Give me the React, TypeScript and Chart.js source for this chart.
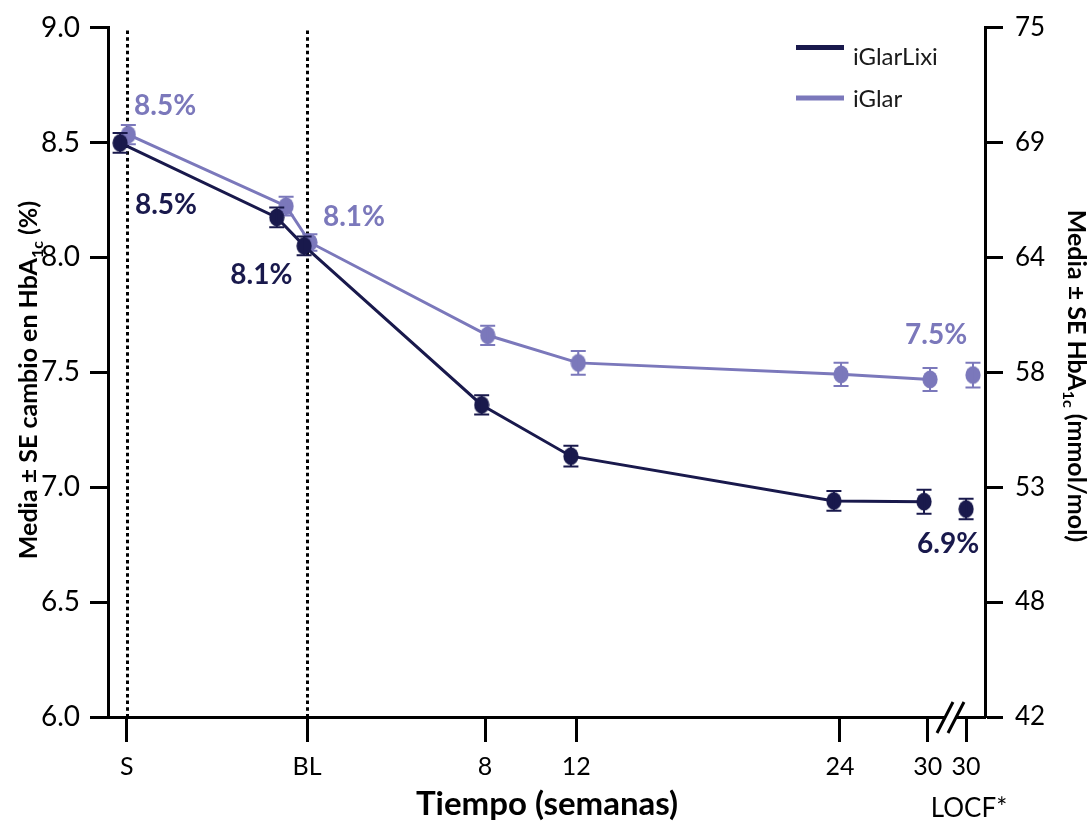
import { useEffect, useRef } from 'react';
import { Chart, registerables } from 'chart.js';

Chart.register(...registerables);

// ---- axis labels ----
const tickLabels = ['S', 'BL', '8', '12', '24', '30', '30'];
const tickPositions = [-8.1, 0, 8, 12.1, 23.95, 27.9, 29.62];
const rightTickLabels = ['42', '48', '53', '58', '64', '69', '75'];

// ---- series: iGlarLixi ----
const lixiX = [-8.4, -1.36, -0.13, 7.85, 11.86, 23.68, 27.73];
const lixiY = [8.498, 8.174, 8.05, 7.358, 7.135, 6.94, 6.937];
const lixiSE = [0.043, 0.043, 0.041, 0.042, 0.045, 0.043, 0.052];
const lixiLocfX = [29.62];
const lixiLocfY = [6.905];
const lixiLocfSE = [0.045];

// ---- series: iGlar ----
const glarX = [-8.03, -0.94, 0.13, 8.12, 12.19, 24.0, 28.0];
const glarY = [8.534, 8.223, 8.065, 7.661, 7.541, 7.491, 7.469];
const glarSE = [0.042, 0.041, 0.036, 0.042, 0.052, 0.051, 0.05];
const glarLocfX = [29.93];
const glarLocfY = [7.488];
const glarLocfSE = [0.054];

// ---- value labels ----
const annTexts = ['8.5%', '8.5%', '8.1%', '8.1%', '7.5%', '6.9%'];
const annSeries = [1, 0, 1, 0, 1, 0];
const annX = [-6.38, -6.34, 2.11, -2.05, 28.27, 28.81];
const annY = [8.661, 8.227, 8.176, 7.925, 7.662, 6.751];

const DARK = '#19194c';
const LIGHT = '#7b78bb';
const COLORS = [DARK, LIGHT];
const FONT = 'Lato, "Open Sans", sans-serif';

function makeEllipse(color: string) {
  const c = document.createElement('canvas');
  c.width = 16;
  c.height = 19;
  const g = c.getContext('2d')!;
  g.fillStyle = color;
  g.beginPath();
  g.ellipse(8, 9.5, 7.6, 9, 0, 0, Math.PI * 2);
  g.fill();
  return c;
}

function drawRich(ctx: CanvasRenderingContext2D, parts: { t: string; sub?: boolean }[], size: number) {
  const main = `bold ${size}px ${FONT}`;
  const subSize = Math.round(size * 0.65);
  const sub = `bold ${subSize}px ${FONT}`;
  let total = 0;
  const widths = parts.map((p) => {
    ctx.font = p.sub ? sub : main;
    const w = ctx.measureText(p.t).width;
    total += w;
    return w;
  });
  let x = -total / 2;
  ctx.textAlign = 'left';
  ctx.textBaseline = 'alphabetic';
  parts.forEach((p, i) => {
    ctx.font = p.sub ? sub : main;
    ctx.fillText(p.t, x, p.sub ? size * 0.36 + size * 0.22 : size * 0.36);
    x += widths[i];
  });
}

const customPlugin = {
  id: 'custom',
  beforeDatasetsDraw(chart: any) {
    const { ctx, chartArea, scales } = chart;
    ctx.save();
    ctx.strokeStyle = '#000';
    ctx.lineWidth = 3;
    ctx.setLineDash([3.5, 3.2]);
    [tickPositions[0], tickPositions[1]].forEach((v) => {
      const x = Math.round(scales.x.getPixelForValue(v)) + 0.5;
      ctx.beginPath();
      ctx.moveTo(x, chartArea.top + 3);
      ctx.lineTo(x, chartArea.bottom);
      ctx.stroke();
    });
    ctx.restore();
  },
  afterDatasetDraw(chart: any, args: any) {
    const ds: any = chart.data.datasets[args.index];
    const se: number[] = ds.se;
    if (!se) return;
    const { ctx, scales } = chart;
    ctx.save();
    ctx.strokeStyle = ds.borderColor;
    ctx.lineWidth = 2;
    args.meta.data.forEach((pt: any, i: number) => {
      const raw = ds.data[i];
      const x = pt.x;
      const yT = scales.y.getPixelForValue(raw.y + se[i]);
      const yB = scales.y.getPixelForValue(raw.y - se[i]);
      ctx.beginPath();
      ctx.moveTo(x, yT);
      ctx.lineTo(x, yB);
      ctx.moveTo(x - 7.5, yT);
      ctx.lineTo(x + 7.5, yT);
      ctx.moveTo(x - 7.5, yB);
      ctx.lineTo(x + 7.5, yB);
      ctx.stroke();
    });
    ctx.restore();
  },
  afterDraw(chart: any) {
    const { ctx, scales } = chart;
    ctx.save();
    // value labels
    ctx.font = `bold 28px ${FONT}`;
    ctx.textAlign = 'center';
    ctx.textBaseline = 'middle';
    annTexts.forEach((t, i) => {
      ctx.fillStyle = COLORS[annSeries[i]];
      ctx.fillText(t, scales.x.getPixelForValue(annX[i]), scales.y.getPixelForValue(annY[i]));
    });
    // legend
    ctx.lineWidth = 5;
    ctx.strokeStyle = DARK;
    ctx.beginPath();
    ctx.moveTo(796, 47.5);
    ctx.lineTo(844, 47.5);
    ctx.stroke();
    ctx.strokeStyle = LIGHT;
    ctx.beginPath();
    ctx.moveTo(796, 98);
    ctx.lineTo(844, 98);
    ctx.stroke();
    ctx.fillStyle = '#1a1a1a';
    ctx.font = `24px ${FONT}`;
    ctx.textAlign = 'left';
    ctx.textBaseline = 'alphabetic';
    ctx.fillText('iGlarLixi', 853, 65);
    ctx.fillText('iGlar', 853, 107);
    // axis titles
    ctx.fillStyle = '#000';
    ctx.save();
    ctx.translate(28, 380);
    ctx.rotate(-Math.PI / 2);
    drawRich(ctx, [{ t: 'Media ± SE cambio en HbA' }, { t: '1c', sub: true }, { t: ' (%)' }], 25);
    ctx.restore();
    ctx.save();
    ctx.translate(1077, 376);
    ctx.rotate(Math.PI / 2);
    drawRich(ctx, [{ t: 'Media ± SE HbA' }, { t: '1c', sub: true }, { t: ' (mmol/mol)' }], 25);
    ctx.restore();
    ctx.font = `bold 33px ${FONT}`;
    ctx.textAlign = 'center';
    ctx.fillText('Tiempo (semanas)', 547, 815);
    ctx.font = `26px ${FONT}`;
    ctx.fillText('LOCF*', 969, 817);
    // axis break
    ctx.fillStyle = '#fff';
    ctx.fillRect(946, 713, 10, 8);
    ctx.strokeStyle = '#000';
    ctx.lineWidth = 3;
    ctx.beginPath();
    ctx.moveTo(937, 733);
    ctx.lineTo(953, 702);
    ctx.moveTo(948, 733);
    ctx.lineTo(964, 702);
    ctx.stroke();
    ctx.restore();
  },
};

export default function App() {
  const ref = useRef<HTMLCanvasElement>(null);
  useEffect(() => {
    document.body.style.margin = '0';
    const darkPt = makeEllipse(DARK);
    const lightPt = makeEllipse(LIGHT);
    const pts = (xs: number[], ys: number[]) => xs.map((x, i) => ({ x, y: ys[i] }));
    const chart = new Chart(ref.current!, {
      type: 'line',
      data: {
        datasets: [
          { label: 'iGlarLixi', data: pts(lixiX, lixiY), se: lixiSE, borderColor: DARK, borderWidth: 3, pointStyle: darkPt, pointRadius: 8, tension: 0 } as any,
          { label: 'iGlarLixi LOCF', data: pts(lixiLocfX, lixiLocfY), se: lixiLocfSE, borderColor: DARK, showLine: false, pointStyle: darkPt, pointRadius: 8 } as any,
          { label: 'iGlar', data: pts(glarX, glarY), se: glarSE, borderColor: LIGHT, borderWidth: 3, pointStyle: lightPt, pointRadius: 8, tension: 0 } as any,
          { label: 'iGlar LOCF', data: pts(glarLocfX, glarLocfY), se: glarLocfSE, borderColor: LIGHT, showLine: false, pointStyle: lightPt, pointRadius: 8 } as any,
        ],
      },
      options: {
        responsive: false,
        animation: false,
        layout: { padding: { top: 22, left: 0, right: 0, bottom: 0 } },
        plugins: { legend: { display: false }, tooltip: { enabled: false } },
        scales: {
          x: {
            type: 'linear',
            min: -8.944,
            max: 30.47,
            afterBuildTicks: (s: any) => {
              s.ticks = tickPositions.map((v) => ({ value: v }));
            },
            afterFit: (s: any) => {
              s.height = 105;
            },
            ticks: {
              autoSkip: false,
              maxRotation: 0,
              padding: 10,
              color: '#000',
              font: { family: FONT, size: 25 },
              callback: (_v: any, i: number) => tickLabels[i],
            },
            grid: { drawOnChartArea: false, drawTicks: true, tickLength: 25, tickWidth: 3, tickColor: '#000' },
            border: { display: true, color: '#000', width: 3 },
          },
          y: {
            type: 'linear',
            position: 'left',
            min: 6,
            max: 9,
            afterFit: (s: any) => {
              s.width = 108;
            },
            ticks: {
              stepSize: 0.5,
              padding: 10,
              color: '#000',
              font: { family: FONT, size: 28 },
              callback: (v: any) => Number(v).toFixed(1),
            },
            grid: { drawOnChartArea: false, drawTicks: true, tickLength: 18, tickWidth: 3, tickColor: '#000' },
            border: { display: true, color: '#000', width: 3 },
          },
          y2: {
            type: 'linear',
            position: 'right',
            min: 6,
            max: 9,
            afterFit: (s: any) => {
              s.width = 106;
            },
            ticks: {
              stepSize: 0.5,
              padding: 12,
              color: '#000',
              font: { family: FONT, size: 26 },
              callback: (_v: any, i: number) => rightTickLabels[i],
            },
            grid: { drawOnChartArea: false, drawTicks: true, tickLength: 18, tickWidth: 3, tickColor: '#000' },
            border: { display: true, color: '#000', width: 3 },
          },
        },
      },
      plugins: [customPlugin],
    });
    return () => chart.destroy();
  }, []);
  return <canvas ref={ref} width={1091} height={822} style={{ display: 'block' }} />;
}
